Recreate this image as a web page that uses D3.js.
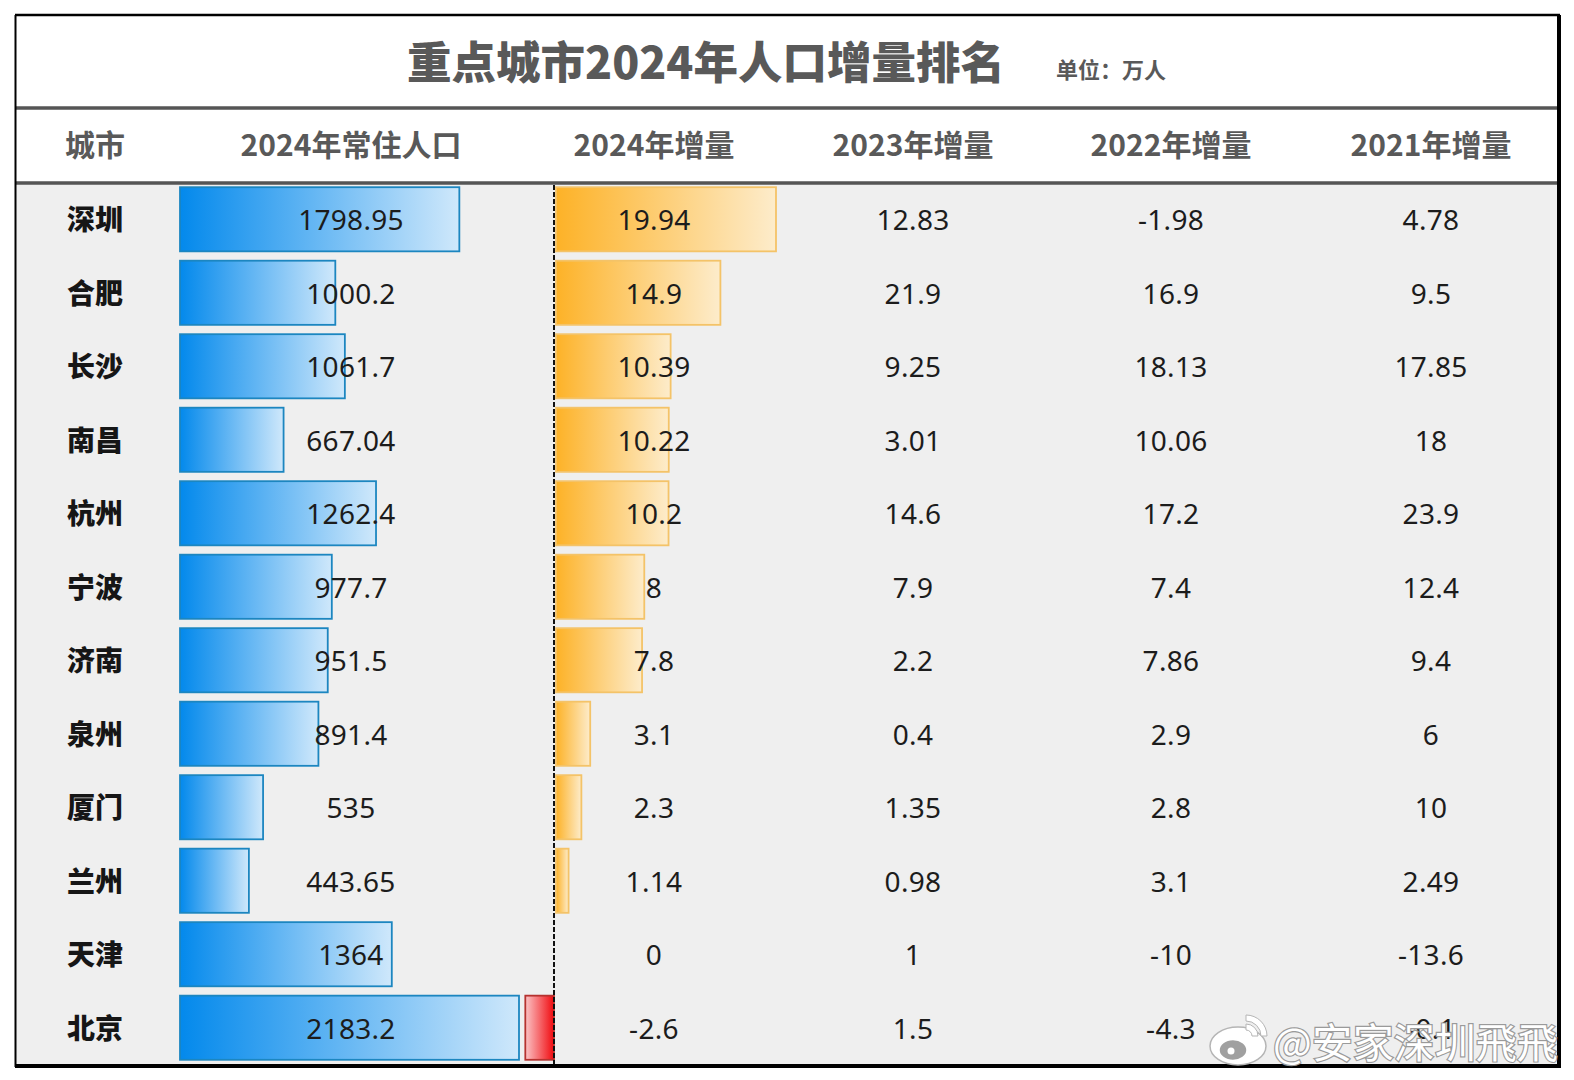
<!DOCTYPE html>
<html>
<head>
<meta charset="utf-8">
<script src="https://cdnjs.cloudflare.com/ajax/libs/d3/7.8.5/d3.min.js"></script>
<style>
  html, body { margin: 0; padding: 0; background: #fff; }
  svg { display: block; }
  text { font-family: "Noto Sans CJK SC", "Noto Sans", sans-serif; }
  .num { font-family: "Noto Sans", "Open Sans", sans-serif; font-size: 28px; letter-spacing: 0.3px; fill: #1c1c1c; text-anchor: middle; }
  .head { font-size: 30px; font-weight: 700; fill: #595959; text-anchor: middle; }
  .city { font-size: 28px; font-weight: 900; fill: #161616; text-anchor: middle; }
</style>
</head>
<body>
<svg id="chart" width="1574" height="1080"></svg>
<script>
var cities = ["深圳", "合肥", "长沙", "南昌", "杭州", "宁波", "济南", "泉州", "厦门", "兰州", "天津", "北京"];
var population = ["1798.95", "1000.2", "1061.7", "667.04", "1262.4", "977.7", "951.5", "891.4", "535", "443.65", "1364", "2183.2"];
var inc2024 = ["19.94", "14.9", "10.39", "10.22", "10.2", "8", "7.8", "3.1", "2.3", "1.14", "0", "-2.6"];
var inc2023 = ["12.83", "21.9", "9.25", "3.01", "14.6", "7.9", "2.2", "0.4", "1.35", "0.98", "1", "1.5"];
var inc2022 = ["-1.98", "16.9", "18.13", "10.06", "17.2", "7.4", "7.86", "2.9", "2.8", "3.1", "-10", "-4.3"];
var inc2021 = ["4.78", "9.5", "17.85", "18", "23.9", "12.4", "9.4", "6", "10", "2.49", "-13.6", "-0.1"];
var headers = ["城市", "2024年常住人口", "2024年增量", "2023年增量", "2022年增量", "2021年增量"];
var columnX = [95, 351, 654, 913, 1171, 1431];

var svg = d3.select("#chart");
var defs = svg.append("defs");

function addGradient(id, c1, c2, flip) {
  var g = defs.append("linearGradient").attr("id", id)
    .attr("x1", flip ? "100%" : "0%").attr("x2", flip ? "0%" : "100%");
  g.append("stop").attr("offset", "0%").attr("stop-color", c1);
  g.append("stop").attr("offset", "100%").attr("stop-color", c2);
}
addGradient("blue", "#0389ec", "#cfe8fb");
addGradient("orange", "#fdb227", "#fdeccb");
addGradient("red", "#f00a0f", "#fbc4c6", true);

// table body background
svg.append("rect").attr("x", 15).attr("y", 184).attr("width", 1544).attr("height", 882).attr("fill", "#efefef");

var y = d3.scaleBand().domain(cities).range([184, 1063]).paddingInner(0.1).paddingOuter(0.03);
var popX = d3.scaleLinear().domain([0, 2183.2]).range([180, 519]);
var incX = d3.scaleLinear().domain([0, 19.94]).range([556, 776]);

// population bars
svg.selectAll(".pop").data(cities).enter().append("rect")
  .attr("class", "pop")
  .attr("x", popX(0))
  .attr("y", function(d) { return y(d) + 1; })
  .attr("width", function(d, i) { return popX(+population[i]) - popX(0); })
  .attr("height", y.bandwidth() - 2)
  .attr("fill", "url(#blue)")
  .attr("stroke", "#1c86c0")
  .attr("stroke-width", 1.8);

// 2024 increment bars
svg.selectAll(".inc").data(cities).enter().append("rect")
  .attr("class", "inc")
  .attr("x", function(d, i) { return +inc2024[i] < 0 ? incX(+inc2024[i]) - 2 : incX(0); })
  .attr("y", function(d) { return y(d) + 1; })
  .attr("width", function(d, i) { return Math.abs(incX(+inc2024[i]) - incX(0)); })
  .attr("height", y.bandwidth() - 2)
  .attr("fill", function(d, i) { return +inc2024[i] < 0 ? "url(#red)" : "url(#orange)"; })
  .attr("stroke", function(d, i) { return +inc2024[i] < 0 ? "#b5322f" : "#f4c368"; })
  .attr("stroke-width", function(d, i) { return +inc2024[i] === 0 ? 0 : 1.8; });

// zero line of the increment bars
svg.append("line")
  .attr("x1", incX(0) - 2).attr("x2", incX(0) - 2)
  .attr("y1", 185).attr("y2", 1065)
  .attr("stroke", "#111").attr("stroke-width", 2).attr("stroke-dasharray", "5 2");

// table values
var valueCols = [population, inc2024, inc2023, inc2022, inc2021];
valueCols.forEach(function(col, c) {
  svg.selectAll(".col" + c).data(col).enter().append("text")
    .attr("class", "num col" + c)
    .attr("x", columnX[c + 1])
    .attr("y", function(d, i) { return y(cities[i]) + y.bandwidth() / 2 + 11; })
    .text(function(d) { return d; });
});

svg.selectAll(".city").data(cities).enter().append("text")
  .attr("class", "city")
  .attr("x", columnX[0])
  .attr("y", function(d) { return y(d) + y.bandwidth() / 2 + 11; })
  .text(function(d) { return d; });

svg.selectAll(".head").data(headers).enter().append("text")
  .attr("class", "head")
  .attr("x", function(d, i) { return columnX[i]; })
  .attr("y", 156)
  .text(function(d) { return d; });

// title
svg.append("text").attr("x", 706).attr("y", 79).attr("text-anchor", "middle")
  .attr("font-size", 44.5).attr("font-weight", 900).attr("fill", "#595959")
  .text("重点城市2024年人口增量排名");
svg.append("text").attr("x", 1056).attr("y", 78)
  .attr("font-size", 22).attr("font-weight", 700).attr("fill", "#595959")
  .text("单位：万人");

// rules and frame
[108, 183].forEach(function(ry) {
  svg.append("line").attr("x1", 15).attr("x2", 1559).attr("y1", ry).attr("y2", ry)
    .attr("stroke", "#555").attr("stroke-width", 3.5);
});
svg.append("line").attr("x1", 15).attr("x2", 1560).attr("y1", 15).attr("y2", 15).attr("stroke", "#000").attr("stroke-width", 2.5);
svg.append("line").attr("x1", 15.5).attr("x2", 15.5).attr("y1", 15).attr("y2", 1067).attr("stroke", "#000").attr("stroke-width", 2);
svg.append("line").attr("x1", 15).attr("x2", 1561).attr("y1", 1066).attr("y2", 1066)
  .attr("stroke", "#000").attr("stroke-width", 4);
svg.append("line").attr("x1", 1559).attr("x2", 1559).attr("y1", 15).attr("y2", 1068)
  .attr("stroke", "#000").attr("stroke-width", 4);

// watermark
var wm = svg.append("g");
wm.append("ellipse").attr("cx", 1238).attr("cy", 1046).attr("rx", 28).attr("ry", 19)
  .attr("fill", "#fff").attr("stroke", "#b5b5b5").attr("stroke-width", 1.5);
wm.append("ellipse").attr("cx", 1233).attr("cy", 1050).attr("rx", 14).attr("ry", 10.5)
  .attr("fill", "#a0a0a0").attr("stroke", "#fff").attr("stroke-width", 1.5);
wm.append("circle").attr("cx", 1231).attr("cy", 1051).attr("r", 3.5).attr("fill", "#fff");
[[15, 21], [6, 12]].forEach(function(r) {
  wm.append("path").attr("d", d3.arc()({ innerRadius: r[0], outerRadius: r[1], startAngle: 0, endAngle: Math.PI / 2 }))
    .attr("transform", "translate(1246,1036)").attr("fill", "#fff").attr("stroke", "#b5b5b5");
});
wm.append("text").attr("x", 1273).attr("y", 1058)
  .attr("font-size", 41).attr("fill", "#fff").attr("stroke", "#9a9a9a").attr("stroke-width", 2.4)
  .attr("paint-order", "stroke")
  .text("@安家深圳飛飛");
</script>
</body>
</html>
